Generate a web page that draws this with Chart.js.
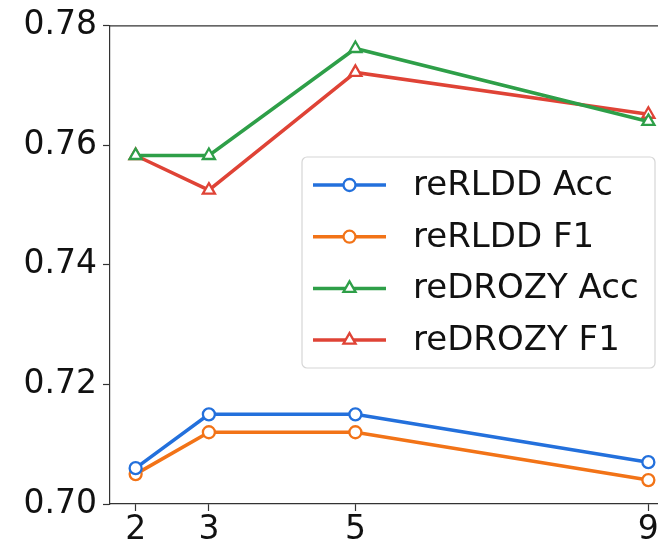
<!DOCTYPE html>
<html>
<head>
<meta charset="utf-8">
<script src="https://cdn.jsdelivr.net/npm/chart.js@4.4.0/dist/chart.umd.min.js"></script>
<style>
  html, body { margin: 0; padding: 0; background: #fff; overflow: hidden; }
  #wrap { width: 700px; height: 541px; }
</style>
</head>
<body>
<div id="wrap"><canvas id="c" width="700" height="541"></canvas></div>
<script>
// values
const xValues = [2, 3, 5, 9];
const rldd_acc = [0.706, 0.715, 0.715, 0.707];
const rldd_f1 = [0.705, 0.712, 0.712, 0.704];
const drozy_acc = [0.7583, 0.7583, 0.7762, 0.7640];
const drozy_f1 = [0.7583, 0.7525, 0.7722, 0.7652];
const yTicks = [0.70, 0.72, 0.74, 0.76, 0.78];

const FONT = 'DejaVu Sans';

const mk = (label, vals, color, style) => ({
    label: label,
    data: vals.map((v, i) => ({ x: xValues[i], y: v })),
    borderColor: color,
    backgroundColor: '#ffffff',
    borderWidth: 3.5,
    pointStyle: style,
    pointRadius: style === 'triangle' ? 7 : 6,
    pointBorderWidth: 2.3,
    pointBackgroundColor: '#ffffff',
    pointBorderColor: color,
    tension: 0
});

// legend box drawn inside the plot, like matplotlib's
const boxLegend = {
    id: 'boxLegend',
    afterDatasetsDraw(chart) {
        const c = chart.ctx;
        const x0 = 302, y0 = 157, w = 353, h = 211;
        c.save();
        c.beginPath();
        c.roundRect(x0, y0, w, h, 5);
        c.fillStyle = 'rgba(255,255,255,0.85)';
        c.fill();
        c.strokeStyle = '#d6d6d6';
        c.lineWidth = 1.2;
        c.stroke();
        chart.data.datasets.forEach((ds, i) => {
            const cy = 185 + i * 51.7;
            c.strokeStyle = ds.borderColor;
            c.lineWidth = 3.5;
            c.beginPath();
            c.moveTo(313, cy);
            c.lineTo(386, cy);
            c.stroke();
            c.fillStyle = '#fff';
            c.lineWidth = 2.3;
            c.beginPath();
            if (ds.pointStyle === 'triangle') {
                const r = 7;
                c.moveTo(349.5, cy - r);
                c.lineTo(349.5 + r * 0.866, cy + r * 0.5);
                c.lineTo(349.5 - r * 0.866, cy + r * 0.5);
                c.closePath();
            } else {
                c.arc(349.5, cy, 6, 0, Math.PI * 2);
            }
            c.fill();
            c.stroke();
            c.fillStyle = '#111';
            c.font = '34px "' + FONT + '"';
            c.textBaseline = 'middle';
            c.textAlign = 'left';
            c.fillText(ds.label, 413, cy + 1);
        });
        c.restore();
    }
};

// top spine
const topSpine = {
    id: 'topSpine',
    afterDraw(chart) {
        const a = chart.chartArea, c = chart.ctx;
        c.save();
        c.strokeStyle = '#333';
        c.lineWidth = 1.2;
        c.beginPath();
        c.moveTo(a.left, a.top);
        c.lineTo(a.right, a.top);
        c.stroke();
        c.restore();
    }
};

new Chart(document.getElementById('c').getContext('2d'), {
    type: 'line',
    data: {
        datasets: [
            mk('reRLDD Acc', rldd_acc, '#2370dc', 'circle'),
            mk('reRLDD F1', rldd_f1, '#f27317', 'circle'),
            mk('reDROZY Acc', drozy_acc, '#2e9f48', 'triangle'),
            mk('reDROZY F1', drozy_f1, '#df4336', 'triangle')
        ]
    },
    options: {
        responsive: false,
        animation: false,
        layout: { padding: { left: 0, top: 24, right: 26, bottom: 0 } },
        plugins: { legend: { display: false }, tooltip: { enabled: false } },
        scales: {
            x: {
                type: 'linear',
                min: 1.65,
                max: 9.35,
                afterBuildTicks: s => { s.ticks = xValues.map(v => ({ value: v })); },
                afterFit: s => { s.height = 37; },
                grid: { drawOnChartArea: false, drawTicks: true, tickLength: 7, tickColor: '#333', tickWidth: 1.2 },
                border: { color: '#333', width: 1.2 },
                ticks: { color: '#111', padding: 0, maxRotation: 0, autoSkip: false, font: { family: FONT, size: 33 } }
            },
            y: {
                min: 0.70,
                max: 0.78,
                afterBuildTicks: s => { s.ticks = yTicks.map(v => ({ value: v })); },
                afterFit: s => { s.width = 110; },
                grid: { drawOnChartArea: false, drawTicks: true, tickLength: 7, tickColor: '#333', tickWidth: 1.2 },
                border: { color: '#333', width: 1.2 },
                ticks: {
                    color: '#111', padding: 6,
                    font: { family: FONT, size: 33 },
                    callback: v => Number(v).toFixed(2)
                }
            }
        }
    },
    plugins: [boxLegend, topSpine]
});
</script>
</body>
</html>
